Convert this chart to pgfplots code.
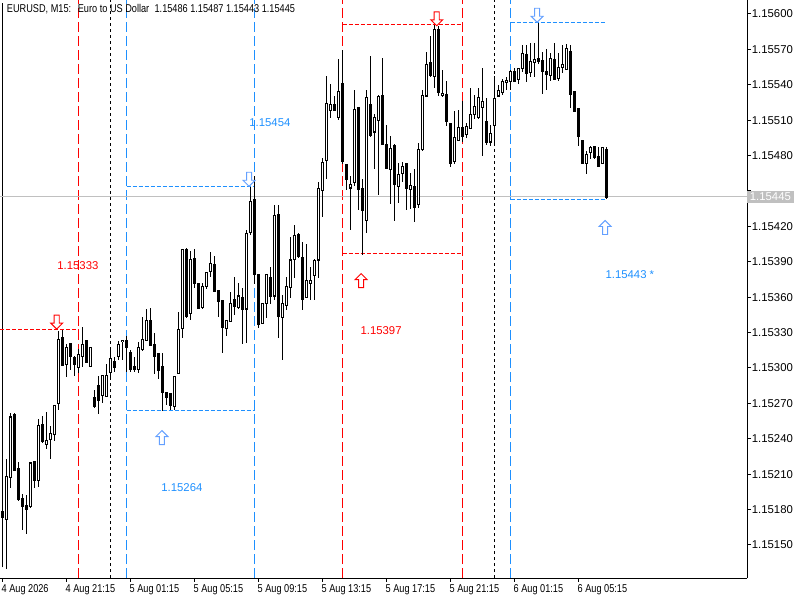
\documentclass[border=0pt]{standalone}
\usepackage{fontspec}
\setmainfont{Liberation Sans}
\newfontfamily\narrowfont[FakeStretch=0.81]{Liberation Sans}
\usepackage{pgfplots}
\usepackage{pgfplotstable}
\pgfplotsset{compat=1.18}

\definecolor{mtred}{RGB}{255,0,0}
\definecolor{mtblue}{RGB}{30,144,255}
\definecolor{arrblue}{RGB}{100,160,255}
\definecolor{mtgray}{RGB}{192,192,192}

\newcommand\lab{\fontsize{8.5}{10}\selectfont}
\newcommand\nlab{\narrowfont\fontsize{8.5}{10}\selectfont}

% hollow arrows, tip at the given point
\newcommand\dnarr[3]{\draw[#1,fill=white,line width=0.7pt] (axis cs:#2,#3) -- ++(-4.5pt,4.5pt) -- ++(2.6pt,0pt) -- ++(0pt,6pt) -- ++(3.8pt,0pt) -- ++(0pt,-6pt) -- ++(2.6pt,0pt) -- cycle;}
\newcommand\uparr[3]{\draw[#1,fill=white,line width=0.7pt] (axis cs:#2,#3) -- ++(-4.5pt,-4.5pt) -- ++(2.6pt,0pt) -- ++(0pt,-6pt) -- ++(3.8pt,0pt) -- ++(0pt,6pt) -- ++(2.6pt,0pt) -- cycle;}

% EURUSD M15 bars, index 0 = 4 Aug 17:15
\pgfplotstableread{
i o h l c
0 1.15180 1.15184 1.15171 1.15175
1 1.15173 1.15224 1.15131 1.15209
2 1.15208 1.15262 1.15199 1.15259
3 1.15261 1.15262 1.15213 1.15214
4 1.15216 1.15221 1.15188 1.15190
5 1.15189 1.15194 1.15163 1.15183
6 1.15185 1.15194 1.15161 1.15182
7 1.15183 1.15221 1.15182 1.15220
8 1.15221 1.15222 1.15199 1.15205
9 1.15205 1.15257 1.15200 1.15252
10 1.15253 1.15261 1.15238 1.15238
11 1.15237 1.15263 1.15231 1.15240
12 1.15240 1.15252 1.15224 1.15245
13 1.15245 1.15269 1.15239 1.15269
14 1.15271 1.15333 1.15266 1.15325
15 1.15327 1.15332 1.15302 1.15303
16 1.15305 1.15321 1.15293 1.15319
17 1.15321 1.15323 1.15300 1.15310
18 1.15310 1.15310 1.15293 1.15304
19 1.15302 1.15318 1.15297 1.15313
20 1.15311 1.15336 1.15302 1.15321
21 1.15324 1.15324 1.15304 1.15305
22 1.15302 1.15318 1.15302 1.15318
23 1.15276 1.15283 1.15268 1.15268
24 1.15286 1.15294 1.15262 1.15273
25 1.15277 1.15294 1.15271 1.15294
26 1.15277 1.15304 1.15277 1.15295
27 1.15296 1.15316 1.15291 1.15308
28 1.15307 1.15311 1.15298 1.15302
29 1.15311 1.15324 1.15308 1.15321
30 1.15323 1.15325 1.15308 1.15324
31 1.15324 1.15329 1.15298 1.15318
32 1.15314 1.15317 1.15298 1.15299
33 1.15301 1.15310 1.15298 1.15299
34 1.15299 1.15323 1.15297 1.15317
35 1.15316 1.15344 1.15315 1.15324
36 1.15325 1.15351 1.15325 1.15342
37 1.15342 1.15352 1.15321 1.15321
38 1.15321 1.15330 1.15295 1.15311
39 1.15313 1.15313 1.15291 1.15298
40 1.15301 1.15313 1.15264 1.15279
41 1.15280 1.15280 1.15269 1.15276
42 1.15278 1.15278 1.15265 1.15268
43 1.15268 1.15294 1.15265 1.15294
44 1.15295 1.15348 1.15295 1.15333
45 1.15334 1.15401 1.15326 1.15401
46 1.15401 1.15402 1.15343 1.15344
47 1.15346 1.15401 1.15342 1.15392
48 1.15393 1.15401 1.15368 1.15372
49 1.15373 1.15373 1.15351 1.15352
50 1.15351 1.15372 1.15350 1.15369
51 1.15369 1.15381 1.15368 1.15381
52 1.15382 1.15399 1.15378 1.15389
53 1.15389 1.15394 1.15365 1.15366
54 1.15367 1.15367 1.15344 1.15357
55 1.15358 1.15358 1.15314 1.15335
56 1.15334 1.15341 1.15328 1.15341
57 1.15340 1.15365 1.15340 1.15356
58 1.15358 1.15379 1.15346 1.15352
59 1.15352 1.15372 1.15350 1.15362
60 1.15360 1.15369 1.15321 1.15350
61 1.15351 1.15418 1.15322 1.15415
62 1.15416 1.15454 1.15414 1.15443
63 1.15443 1.15464 1.15373 1.15380
64 1.15380 1.15380 1.15335 1.15338
65 1.15338 1.15355 1.15337 1.15355
66 1.15355 1.15380 1.15343 1.15380
67 1.15378 1.15386 1.15355 1.15362
68 1.15362 1.15438 1.15358 1.15430
69 1.15430 1.15440 1.15327 1.15344
70 1.15343 1.15362 1.15307 1.15355
71 1.15353 1.15377 1.15349 1.15369
72 1.15369 1.15412 1.15360 1.15392
73 1.15393 1.15423 1.15378 1.15413
74 1.15414 1.15415 1.15394 1.15395
75 1.15395 1.15407 1.15349 1.15359
76 1.15361 1.15406 1.15360 1.15375
77 1.15373 1.15386 1.15358 1.15375
78 1.15379 1.15392 1.15358 1.15392
79 1.15393 1.15459 1.15377 1.15454
80 1.15451 1.15478 1.15428 1.15475
81 1.15476 1.15548 1.15461 1.15525
82 1.15519 1.15541 1.15512 1.15524
83 1.15524 1.15531 1.15518 1.15519
84 1.15513 1.15563 1.15512 1.15535
85 1.15541 1.15570 1.15473 1.15475
86 1.15474 1.15474 1.15452 1.15461
87 1.15454 1.15464 1.15418 1.15457
88 1.15457 1.15537 1.15456 1.15519
89 1.15521 1.15521 1.15435 1.15452
90 1.15454 1.15461 1.15397 1.15435
91 1.15426 1.15536 1.15415 1.15530
92 1.15525 1.15565 1.15497 1.15499
93 1.15500 1.15516 1.15469 1.15512
94 1.15511 1.15532 1.15447 1.15531
95 1.15532 1.15564 1.15490 1.15491
96 1.15490 1.15506 1.15470 1.15470
97 1.15469 1.15497 1.15439 1.15487
98 1.15490 1.15490 1.15425 1.15457
99 1.15455 1.15475 1.15441 1.15465
100 1.15466 1.15475 1.15458 1.15472
101 1.15474 1.15475 1.15435 1.15453
102 1.15452 1.15466 1.15435 1.15455
103 1.15455 1.15469 1.15424 1.15437
104 1.15439 1.15492 1.15437 1.15486
105 1.15486 1.15537 1.15485 1.15532
106 1.15532 1.15568 1.15531 1.15559
107 1.15559 1.15582 1.15547 1.15548
108 1.15547 1.15591 1.15538 1.15587
109 1.15586 1.15590 1.15531 1.15533
110 1.15531 1.15553 1.15530 1.15533
111 1.15532 1.15544 1.15506 1.15509
112 1.15508 1.15508 1.15471 1.15474
113 1.15475 1.15519 1.15474 1.15495
114 1.15494 1.15519 1.15493 1.15505
115 1.15505 1.15527 1.15492 1.15497
116 1.15498 1.15509 1.15496 1.15505
117 1.15504 1.15538 1.15503 1.15516
118 1.15516 1.15532 1.15512 1.15523
119 1.15513 1.15538 1.15512 1.15530
120 1.15521 1.15555 1.15480 1.15526
121 1.15509 1.15530 1.15490 1.15492
122 1.15492 1.15507 1.15489 1.15499
123 1.15506 1.15548 1.15489 1.15529
124 1.15531 1.15540 1.15530 1.15536
125 1.15534 1.15545 1.15531 1.15543
126 1.15542 1.15548 1.15537 1.15544
127 1.15544 1.15554 1.15537 1.15552
128 1.15553 1.15554 1.15544 1.15544
129 1.15545 1.15555 1.15542 1.15554
130 1.15553 1.15575 1.15552 1.15566
131 1.15566 1.15575 1.15543 1.15550
132 1.15551 1.15576 1.15548 1.15560
133 1.15559 1.15576 1.15547 1.15562
134 1.15562 1.15593 1.15559 1.15560
135 1.15561 1.15569 1.15533 1.15552
136 1.15552 1.15572 1.15537 1.15550
137 1.15548 1.15567 1.15543 1.15563
138 1.15563 1.15575 1.15544 1.15546
139 1.15546 1.15567 1.15543 1.15556
140 1.15556 1.15575 1.15551 1.15558
141 1.15554 1.15575 1.15553 1.15572
142 1.15570 1.15575 1.15521 1.15533
143 1.15535 1.15536 1.15518 1.15518
144 1.15519 1.15519 1.15489 1.15496
145 1.15494 1.15494 1.15473 1.15474
146 1.15474 1.15485 1.15465 1.15482
147 1.15483 1.15489 1.15478 1.15487
148 1.15488 1.15489 1.15478 1.15479
149 1.15480 1.15487 1.15470 1.15471
150 1.15474 1.15488 1.15473 1.15487
151 1.15486 1.15487 1.15443 1.15445
}\candles

\begin{document}
\begin{tikzpicture}
\path[use as bounding box] (0pt,-16.5pt) rectangle (600pt,433.5pt);
\begin{axis}[
  scale only axis,
  width=560.25pt, height=433.5pt,
  xmin=-0.675, xmax=186.075,
  ymin=1.1512203, ymax=1.1561186,
  axis x line=bottom, axis y line=right,
  every non boxed x axis/.style={}, every non boxed y axis/.style={},
  axis line style={-, black, line width=0.75pt},
  tick align=outside, major tick length=3pt,
  tick style={black, line width=0.75pt},
  xtick={0,16,32,48,64,80,96,112,128,144},
  xticklabels={4 Aug 2026, 4 Aug 21:15, 5 Aug 01:15, 5 Aug 05:15, 5 Aug 09:15, 5 Aug 13:15, 5 Aug 17:15, 5 Aug 21:15, 6 Aug 01:15, 6 Aug 05:15},
  xticklabel style={font=\nlab, anchor=north west, inner sep=0pt, xshift=-1pt, yshift=-1.5pt},
  ytick={1.1515,1.1518,1.1521,1.1524,1.1527,1.1530,1.1533,1.1536,1.1539,1.1542,1.1545,1.1548,1.1551,1.1554,1.1557,1.1560},
  % 1.15450 sits under the bid price box
  yticklabels={1.15150,1.15180,1.15210,1.15240,1.15270,1.15300,1.15330,1.15360,1.15390,1.15420,,1.15480,1.15510,1.15540,1.15570,1.15600},
  yticklabel style={font=\lab, anchor=west, inner sep=0pt, xshift=0.5pt},
  clip=false,
]
% start line
\addplot[black, line width=0.75pt] coordinates {(0,1.15131) (0,1.15609)};
% range separators
\addplot[mtred, line width=0.75pt, dash pattern=on 7.5pt off 3pt] coordinates {(19,1.1512203) (19,1.1561186)};
\addplot[mtred, line width=0.75pt, dash pattern=on 7.5pt off 3pt] coordinates {(85,1.1512203) (85,1.1561186)};
\addplot[mtred, line width=0.75pt, dash pattern=on 7.5pt off 3pt] coordinates {(115,1.1512203) (115,1.1561186)};
\addplot[mtblue, line width=0.75pt, dash pattern=on 7.5pt off 3pt] coordinates {(31,1.1512203) (31,1.1561186)};
\addplot[mtblue, line width=0.75pt, dash pattern=on 7.5pt off 3pt] coordinates {(63,1.1512203) (63,1.1561186)};
\addplot[mtblue, line width=0.75pt, dash pattern=on 7.5pt off 3pt] coordinates {(127,1.1512203) (127,1.1561186)};
\addplot[black, line width=0.75pt, dash pattern=on 2.25pt off 2.25pt] coordinates {(27,1.1512203) (27,1.1561186)};
\addplot[black, line width=0.75pt, dash pattern=on 2.25pt off 2.25pt] coordinates {(123,1.1512203) (123,1.1561186)};
% range highs and lows
\addplot[mtred, line width=0.75pt, dash pattern=on 3pt off 1.5pt] coordinates {(-0.675,1.15333) (19,1.15333)};
\addplot[mtblue, line width=0.75pt, dash pattern=on 3pt off 1.5pt] coordinates {(31,1.15454) (63,1.15454)};
\addplot[mtblue, line width=0.75pt, dash pattern=on 3pt off 1.5pt] coordinates {(31,1.15264) (63,1.15264)};
\addplot[mtred, line width=0.75pt, dash pattern=on 3pt off 1.5pt] coordinates {(85,1.15591) (115,1.15591)};
\addplot[mtred, line width=0.75pt, dash pattern=on 3pt off 1.5pt] coordinates {(85,1.15397) (115,1.15397)};
\addplot[mtblue, line width=0.75pt, dash pattern=on 3pt off 1.5pt] coordinates {(127,1.15593) (150.5,1.15593)};
\addplot[mtblue, line width=0.75pt, dash pattern=on 3pt off 1.5pt] coordinates {(127,1.15443) (151,1.15443)};
% bid line
\addplot[mtgray, line width=0.75pt] coordinates {(-0.675,1.15445) (186.075,1.15445)};
% candles: wicks, body outlines, white insides of up bodies
\addplot[draw=none, mark=none, error bars/.cd, y dir=both, y explicit, error mark=none,
  error bar style={draw=black, line width=0.75pt}]
  table[x=i, y expr={(\thisrow{h}+\thisrow{l})/2}, y error expr={(\thisrow{h}-\thisrow{l})/2}] {\candles};
\addplot[draw=none, mark=none, error bars/.cd, y dir=both, y explicit, error mark=none,
  error bar style={draw=black, line width=2.3pt}]
  table[x=i, y expr={(\thisrow{o}+\thisrow{c})/2}, y error expr={abs(\thisrow{c}-\thisrow{o})/2+0.0000045}] {\candles};
\addplot[draw=none, mark=none, error bars/.cd, y dir=both, y explicit, error mark=none,
  error bar style={draw=white, line width=0.8pt}]
  table[x=i, y expr={(\thisrow{o}+\thisrow{c})/2}, y error expr={\thisrow{c}>\thisrow{o} ? max((\thisrow{c}-\thisrow{o})/2-0.0000045,0) : 0}] {\candles};
% arrows
\dnarr{mtred}{13.5}{1.15333}
\dnarr{arrblue}{61.6}{1.15454}
\uparr{arrblue}{39.8}{1.15247}
\uparr{mtred}{89.6}{1.15380}
\dnarr{mtred}{108.5}{1.15590}
\dnarr{arrblue}{133.6}{1.15593}
\uparr{arrblue}{150.6}{1.15425}
% range labels
\node[text=mtred, font=\lab] at (axis cs:18.8,1.15387) {1.15333};
\node[text=mtblue, font=\lab] at (axis cs:66.8,1.15508) {1.15454};
\node[text=mtblue, font=\lab] at (axis cs:44.8,1.15199) {1.15264};
\node[text=mtred, font=\lab] at (axis cs:94.6,1.15332) {1.15397};
\node[text=mtblue, font=\lab] at (axis cs:156.8,1.15379) {1.15443 *};
% price box
\node[fill=mtgray, text=white, font=\lab, anchor=west, inner xsep=2pt, inner ysep=1.5pt] at (axis cs:186.075,1.15445) {1.15445};
% header
\node[font=\nlab, anchor=north west, inner sep=0pt] at ([xshift=5pt,yshift=-3pt]rel axis cs:0,1) {EURUSD, M15:\hspace{5pt}Euro to US Dollar\hspace{4pt}1.15486 1.15487 1.15443 1.15445};
\end{axis}
\end{tikzpicture}
\end{document}
